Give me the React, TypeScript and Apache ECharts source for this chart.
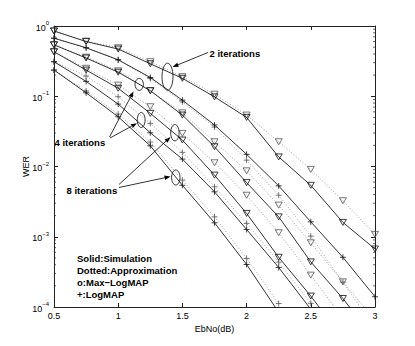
import React, { useEffect, useRef } from 'react';
import * as echarts from 'echarts';

// Eb/No grid (dB)
const ebno = [0.5, 0.75, 1, 1.25, 1.5, 1.75, 2, 2.25, 2.5, 2.75, 3];

// 2 iterations
const it2MaxSim = [0.85, 0.6, 0.47, 0.29, 0.18, 0.098, 0.05, 0.0137, 0.0054, 0.0016, 0.00067];
const it2MaxApp = [0.85, 0.61, 0.49, 0.31, 0.19, 0.107, 0.054, 0.0225, 0.0091, 0.00325, 0.00108];
const it2LogSim = [0.67, 0.49, 0.33, 0.185, 0.088, 0.039, 0.0149, 0.0053, 0.00163, 0.00051, 0.00014];
const it2LogApp = [0.67, 0.49, 0.33, 0.179, 0.083, 0.0364, 0.0123, 0.0039, 0.00102, 0.000226, 0.00005];
// 4 iterations
const it4MaxSim = [0.54, 0.35, 0.22, 0.12, 0.054, 0.0191, 0.0059, 0.00192, 0.000439, 0.000132, 0.000034];
const it4MaxApp = [0.54, 0.36, 0.23, 0.12, 0.058, 0.0225, 0.00868, 0.00282, 0.00082, 0.000228, 0.000065];
const it4LogSim = [0.31, 0.163, 0.0774, 0.0302, 0.01274, 0.00436, 0.00127, 0.000365, 0.000093];
const it4LogApp = [0.31, 0.194, 0.0984, 0.0411, 0.0159, 0.00514, 0.00155, 0.000435, 0.000113];
// 8 iterations
const it8MaxSim = [0.43, 0.236, 0.13, 0.0571, 0.0238, 0.00754, 0.00215, 0.00051, 0.000143, 0.000036];
const it8MaxApp = [0.43, 0.25, 0.144, 0.0709, 0.0296, 0.0113, 0.0039, 0.00114, 0.000284, 0.000069];
const it8LogSim = [0.236, 0.112, 0.051, 0.0197, 0.0054, 0.00158, 0.000403, 0.000084];
const it8LogApp = [0.236, 0.1186, 0.0558, 0.0223, 0.0064, 0.00192, 0.000491, 0.000112];

const legendLines = ['Solid:Simulation', 'Dotted:Approximation', 'o:Max\u2212LogMAP', '+:LogMAP'];

const FONT = '"Liberation Sans", Arial, Helvetica, sans-serif';
const PLUS = 'path://M5 0 L5 10 M0 5 L10 5';

function mkSeries(name: string, vals: number[], marker: 'tri' | 'plus', dotted: boolean) {
  return {
    type: 'line',
    name,
    data: vals.map((v, i) => [ebno[i], v]),
    symbol: marker === 'tri' ? 'triangle' : PLUS,
    symbolRotate: marker === 'tri' ? 180 : 0,
    symbolSize: marker === 'tri' ? [7, 6] : 6,
    showAllSymbol: true,
    clip: true,
    silent: true,
    z: dotted ? 2 : 3,
    lineStyle: {
      color: dotted ? '#999' : '#000',
      width: dotted ? 1 : 0.8,
      type: dotted ? [1, 2] : 'solid',
    },
    itemStyle: {
      color: 'rgba(0,0,0,0)',
      borderColor: dotted ? '#555' : '#111',
      borderWidth: 0.8,
    },
    emphasis: { disabled: true },
  };
}

function arrow(x1: number, y1: number, x2: number, y2: number) {
  const dx = x2 - x1, dy = y2 - y1;
  const len = Math.hypot(dx, dy);
  const ux = dx / len, uy = dy / len;
  const hl = 6, hw = 2.2;
  const bx = x2 - ux * hl, by = y2 - uy * hl;
  return [
    { type: 'line', silent: true, shape: { x1, y1, x2: bx, y2: by }, style: { stroke: '#000', lineWidth: 0.8 } },
    {
      type: 'polygon', silent: true,
      shape: { points: [[x2, y2], [bx - uy * hw, by + ux * hw], [bx + uy * hw, by - ux * hw]] },
      style: { fill: '#000' },
    },
  ];
}

function ellipse(cx: number, cy: number, rx: number, ry: number) {
  return { type: 'ellipse', silent: true, shape: { cx, cy, rx, ry }, style: { fill: 'none', stroke: '#000', lineWidth: 0.8 } };
}

function label(text: string, x: number, y: number) {
  return {
    type: 'text', silent: true, x, y,
    style: { text, font: `bold 9.5px ${FONT}`, fill: '#000', align: 'left', verticalAlign: 'middle' },
  };
}

export default function App() {
  const ref = useRef<HTMLDivElement>(null);
  useEffect(() => {
    if (!ref.current) return;
    const chart = echarts.init(ref.current, null, { renderer: 'svg' });
    const axisLine = { show: true, lineStyle: { color: '#222', width: 1 } };
    const option: any = {
      animation: false,
      backgroundColor: '#fff',
      grid: { left: 54, top: 26, width: 321, height: 281, outerBoundsMode: 'none' },
      xAxis: [
        {
          type: 'value', min: 0.5, max: 3, interval: 0.5, position: 'bottom',
          axisLine, splitLine: { show: false },
          axisTick: { inside: true, length: 4, lineStyle: { color: '#222' } },
          axisLabel: { fontFamily: FONT, fontSize: 9, color: '#000', margin: 4, formatter: (v: number) => String(v) },
          name: 'EbNo(dB)', nameLocation: 'middle', nameGap: 17, nameMoveOverlap: false,
          nameTextStyle: { fontFamily: FONT, fontSize: 9, color: '#000' },
        },
        {
          type: 'value', min: 0.5, max: 3, interval: 0.5, position: 'top',
          axisLine, splitLine: { show: false },
          axisTick: { inside: true, length: 4, lineStyle: { color: '#222' } },
          axisLabel: { show: false },
        },
      ],
      yAxis: [
        {
          type: 'log', logBase: 10, min: 1e-4, max: 1, position: 'left',
          axisLine, splitLine: { show: false },
          axisTick: { inside: true, length: 4, lineStyle: { color: '#222' } },
          axisLabel: {
            margin: 5,
            formatter: (v: number) => {
              const e = Math.round(Math.log10(v));
              return `{b|10}{s|${e < 0 ? '\u2212' + -e : e}}`;
            },
            rich: {
              b: { fontFamily: FONT, fontSize: 9, color: '#000', lineHeight: 12, verticalAlign: 'bottom' },
              s: { fontFamily: FONT, fontSize: 6, color: '#000', verticalAlign: 'top' },
            },
          },
          name: 'WER', nameLocation: 'middle', nameGap: 24, nameMoveOverlap: false,
          nameTextStyle: { fontFamily: FONT, fontSize: 9, color: '#000' },
        },
        {
          type: 'log', logBase: 10, min: 1e-4, max: 1, position: 'right',
          axisLine, splitLine: { show: false },
          axisTick: { inside: true, length: 4, lineStyle: { color: '#222' } },
          axisLabel: { show: false },
        },
      ],
      series: [
        mkSeries('2it Max-LogMAP approx', it2MaxApp, 'tri', true),
        mkSeries('2it LogMAP approx', it2LogApp, 'plus', true),
        mkSeries('4it Max-LogMAP approx', it4MaxApp, 'tri', true),
        mkSeries('4it LogMAP approx', it4LogApp, 'plus', true),
        mkSeries('8it Max-LogMAP approx', it8MaxApp, 'tri', true),
        mkSeries('8it LogMAP approx', it8LogApp, 'plus', true),
        mkSeries('2it Max-LogMAP sim', it2MaxSim, 'tri', false),
        mkSeries('2it LogMAP sim', it2LogSim, 'plus', false),
        mkSeries('4it Max-LogMAP sim', it4MaxSim, 'tri', false),
        mkSeries('4it LogMAP sim', it4LogSim, 'plus', false),
        mkSeries('8it Max-LogMAP sim', it8MaxSim, 'tri', false),
        mkSeries('8it LogMAP sim', it8LogSim, 'plus', false),
      ],
    };
    chart.setOption(option);

    // minor log ticks (2..9 in each decade) on left and right edges
    const elements: any[] = [];
    const xl = chart.convertToPixel({ xAxisIndex: 0 }, 0.5) as number;
    const xr = chart.convertToPixel({ xAxisIndex: 0 }, 3) as number;
    for (let k = -4; k < 0; k++) {
      for (let m = 2; m <= 9; m++) {
        const py = chart.convertToPixel({ yAxisIndex: 0 }, m * Math.pow(10, k)) as number;
        elements.push({ type: 'line', silent: true, shape: { x1: xl, y1: py, x2: xl + 2, y2: py }, style: { stroke: '#222', lineWidth: 0.7 } });
        elements.push({ type: 'line', silent: true, shape: { x1: xr - 2, y1: py, x2: xr, y2: py }, style: { stroke: '#222', lineWidth: 0.7 } });
      }
    }
    // annotations
    elements.push(ellipse(167.5, 76.7, 5.5, 13.5));
    elements.push(ellipse(139.2, 84.4, 4.2, 6));
    elements.push(ellipse(141.2, 120, 3.9, 7.5));
    elements.push(ellipse(174.9, 132.7, 4.2, 8.2));
    elements.push(ellipse(175.8, 177.5, 4.2, 7.5));
    elements.push(...arrow(208, 52.5, 172.5, 67));
    elements.push(...arrow(109.5, 137, 133.5, 91.5));
    elements.push(...arrow(110, 138, 137, 123.3));
    elements.push(...arrow(119, 184.5, 170.5, 137));
    elements.push(...arrow(119, 187.5, 170.5, 176.5));
    elements.push(label('2 iterations', 209.5, 53));
    elements.push(label('4 iterations', 54.5, 142));
    elements.push(label('8 iterations', 66.5, 190));
    legendLines.forEach((t, i) => elements.push(label(t, 77, 258 + i * 12)));
    chart.setOption({ graphic: { elements } });

    return () => chart.dispose();
  }, []);
  return <div ref={ref} style={{ position: 'fixed', left: 0, top: 0, width: 415, height: 346, background: '#fff' }} />;
}
